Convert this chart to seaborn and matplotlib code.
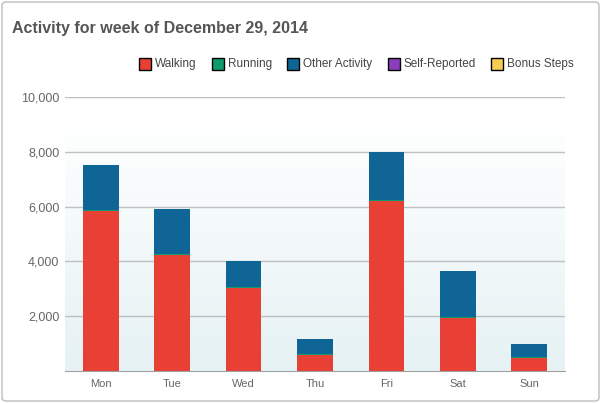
import numpy as np
import pandas as pd
import seaborn as sns
import matplotlib.pyplot as plt
from matplotlib.patches import FancyBboxPatch, Rectangle

days = ["Mon", "Tue", "Wed", "Thu", "Fri", "Sat", "Sun"]
walking = [5840, 4230, 3030, 580, 6200, 1940, 470]
running = [40, 40, 40, 30, 40, 30, 30]
other = [1640, 1640, 945, 560, 1750, 1680, 485]
self_reported = [0, 0, 0, 0, 0, 0, 0]
bonus = [0, 0, 0, 0, 0, 0, 0]

series = ["Walking", "Running", "Other Activity", "Self-Reported", "Bonus Steps"]
colors = ["#e84035", "#0f9b6e", "#0f6595", "#8a3ebc", "#f7cc52"]

df = pd.DataFrame({"day": days, "Walking": walking, "Running": running,
                   "Other Activity": other, "Self-Reported": self_reported,
                   "Bonus Steps": bonus})
cum = df[series].cumsum(axis=1)

sns.set_style("white")
plt.rcParams['font.family'] = ['Liberation Sans', 'DejaVu Sans']

fig = plt.figure(figsize=(6.01, 4.03), dpi=100)
frame = FancyBboxPatch((2 / 601, 2 / 403), 597 / 601, 399 / 403,
                       boxstyle="round,pad=0,rounding_size=0.008",
                       transform=fig.transFigure, facecolor="white",
                       edgecolor="#bdbdbd", linewidth=1, zorder=-10)
fig.patches.append(frame)

ax = fig.add_axes([65 / 601, (403 - 371) / 403, 500 / 601, 274 / 403])
ax.set_facecolor("none")

# background gradient: white at top, pale blue at the bottom
grad = np.linspace(0, 1, 256).reshape(-1, 1)
cmap = plt.matplotlib.colors.LinearSegmentedColormap.from_list("bg", ["#e6f2f4", "#ffffff"])
ax.imshow(grad, aspect="auto", cmap=cmap, extent=(-0.5, 6.5, 0, 9200),
          origin="lower", zorder=0)

for v in [2000, 4000, 6000, 8000, 10000]:
    ax.axhline(v, color="#c0c0c0", linewidth=1, zorder=1)

# stacked bars, drawn top segment first
for name, col in reversed(list(zip(series, colors))):
    sns.barplot(x=df["day"], y=cum[name], color=col, width=0.5,
                saturation=1, ax=ax, zorder=2, linewidth=0)

ax.set_xlim(-0.5, 6.5)
ax.set_ylim(0, 10000)
ax.set_yticks([2000, 4000, 6000, 8000, 10000])
ax.set_yticklabels(["2,000", "4,000", "6,000", "8,000", "10,000"])
ax.set_xlabel("")
ax.set_ylabel("")
ax.tick_params(axis="y", length=0, labelsize=9, labelcolor="#666666", pad=4)
ax.tick_params(axis="x", length=0, labelsize=8, labelcolor="#666666", pad=6)
for s in ["top", "right", "left"]:
    ax.spines[s].set_visible(False)
ax.spines["bottom"].set_color("#a0a0a0")
ax.spines["bottom"].set_zorder(3)

fig.text(12 / 601, 1 - 28 / 403, "Activity for week of December 29, 2014",
         fontsize=11.5, fontweight="bold", color="#555555", va="center")

# legend
leg_x = [139, 212, 287, 388, 491]
for x, name, col in zip(leg_x, series, colors):
    fig.patches.append(Rectangle((x / 601, 1 - 70 / 403), 12 / 601, 12 / 403,
                                 transform=fig.transFigure, facecolor=col,
                                 edgecolor="black", linewidth=1))
    fig.text((x + 16) / 601, 1 - 64 / 403, name, fontsize=8.5,
             color="#444444", va="center")

fig.savefig("out.png", dpi=100)
